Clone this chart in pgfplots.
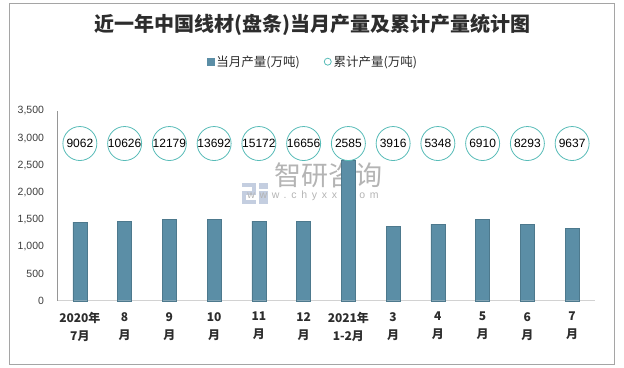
\documentclass[border=0pt]{standalone}
\usepackage{fontspec}
\setmainfont{Liberation Sans}
\newfontfamily\cjk{Noto Sans CJK SC}
\newfontfamily\wmfont{Liberation Sans}[LetterSpace=45]
\usepackage{pgfplots}
\pgfplotsset{compat=1.18}
\definecolor{barcol}{RGB}{91,142,166}
\definecolor{circcol}{RGB}{88,188,184}
\definecolor{titlecol}{RGB}{45,45,45}
\definecolor{ticktxt}{RGB}{60,60,60}
\definecolor{wmgray}{RGB}{180,180,180}
\definecolor{wmblue}{RGB}{196,206,224}
\begin{document}
\begin{tikzpicture}[x=1pt,y=1pt]
\useasboundingbox (0,0) rectangle (624,367);
\draw[draw={rgb,255:red,165;green,165;blue,165}, line width=0.9pt] (9,3) rectangle (614,364);
\node[font=\cjk\bfseries\fontsize{20}{24}\selectfont, text=titlecol] at (312,342) {近一年中国线材(盘条)当月产量及累计产量统计图};
% watermark
\fill[wmblue] (242,180) rectangle (255,184);
\fill[wmblue] (252,172) rectangle (256,184);
\fill[wmblue] (242,172) rectangle (252,176);
\fill[wmblue] (242,163) rectangle (246,176);
\fill[wmblue] (242,163) rectangle (256,167);
\fill[wmblue] (259,178) rectangle (268,184);
\fill[wmblue] (259,163) rectangle (268,176);
\node[font=\cjk\fontsize{27}{30}\selectfont, text=wmgray, inner sep=0pt] at (328.5,192) {智研咨询};
\node[font=\wmfont\fontsize{10.5}{12}\selectfont, text=wmgray, inner sep=0pt] at (313,171.5) {www.chyxx.com};
\begin{axis}[
  at={(57.5pt,66.3pt)}, anchor=south west,
  scale only axis, width=537pt, height=189.7pt,
  xmin=-0.5, xmax=11.5, ymin=0, ymax=3500,
  axis x line*=bottom, axis y line*=left,
  axis line style={-},
  x axis line style={draw={rgb,255:red,210;green,210;blue,210}, line width=0.8pt},
  y axis line style={draw={rgb,255:red,150;green,150;blue,150}, line width=0.8pt},
  xtick={0,...,11},
  xticklabels={{2020年\\7月},{8\\月},{9\\月},{10\\月},{11\\月},{12\\月},{2021年\\1-2月},{3\\月},{4\\月},{5\\月},{6\\月},{7\\月}},
  xtick style={draw=none},
  xticklabel style={font=\cjk\bfseries\fontsize{12}{18}\selectfont, align=center, text=titlecol, yshift=-8pt},
  extra x ticks={-0.5,0.5,...,11.5},
  extra x tick labels={},
  extra x tick style={tick style={draw={rgb,255:red,210;green,210;blue,210}, line width=0.8pt}, major tick length=5pt, tick align=outside},
  ytick={0,500,...,3500},
  ytick style={draw=none},
  yticklabel style={font=\fontsize{10.5}{12}\selectfont, text=ticktxt, xshift=-10pt},
  /pgf/number format/.cd, 1000 sep={,}, assume math mode=true, /pgfplots/.cd,
  legend style={at={(0.476,1.26)}, anchor=center, draw=none, fill=none,
    font=\cjk\fontsize{12.5}{14}\selectfont, text=titlecol,
    /tikz/every even column/.append style={column sep=22pt}},
  legend columns=2,
  clip=false,
]
\addplot[ybar, bar width=14pt, fill=barcol, draw=barcol!85!black, line width=0.3pt,
  legend image code/.code={\fill[barcol] (0pt,-3.5pt) rectangle (7pt,3.5pt);}]
  coordinates {(0,1448) (1,1467) (2,1498) (3,1498) (4,1467) (5,1467) (6,2585) (7,1373) (8,1411) (9,1504) (10,1411) (11,1336)};
\addlegendentry{当月产量(万吨)}
\addplot[only marks, mark=*, mark size=17pt, mark options={fill=white, draw=circcol, line width=0.8pt},
  point meta=explicit symbolic, nodes near coords,
  every node near coord/.append style={anchor=center, font=\fontsize{12}{14}\selectfont, text=black},
  legend image code/.code={\draw[circcol, line width=0.8pt, fill=white] (3.5pt,0pt) circle (3.5pt);}]
  coordinates {(0,2900)[9062] (1,2900)[10626] (2,2900)[12179] (3,2900)[13692] (4,2900)[15172] (5,2900)[16656] (6,2900)[2585] (7,2900)[3916] (8,2900)[5348] (9,2900)[6910] (10,2900)[8293] (11,2900)[9637]};
\addlegendentry{累计产量(万吨)}
\end{axis}
\end{tikzpicture}
\end{document}
